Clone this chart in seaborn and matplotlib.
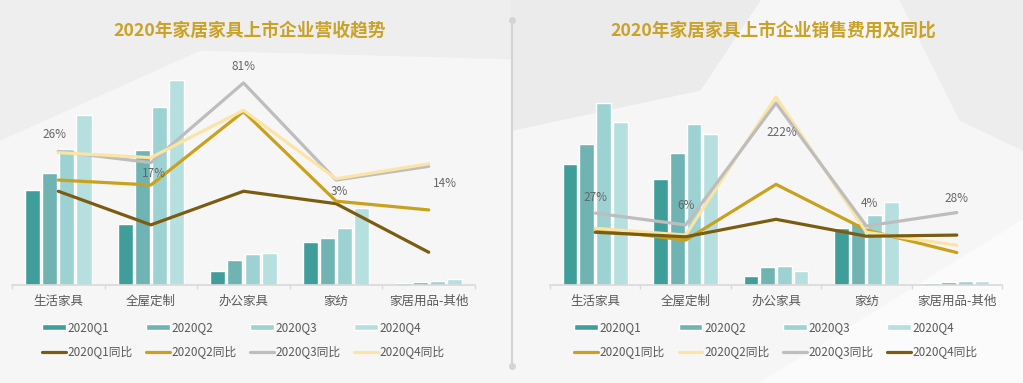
import numpy as np
import pandas as pd
import matplotlib.pyplot as plt
import seaborn as sns
from matplotlib.patches import Patch, Polygon
from matplotlib.lines import Line2D

sns.set_theme(style="white")
plt.rcParams['font.family'] = ['Noto Sans CJK SC', 'DejaVu Sans']

categories = ["生活家具", "全屋定制", "办公家具", "家纺", "家居用品-其他"]
quarters = ["2020Q1", "2020Q2", "2020Q3", "2020Q4"]

# revenue (left), relative units
rev_q1 = [95, 61, 14, 43, 2]
rev_q2 = [112, 135, 25, 47, 3]
rev_q3 = [136, 178, 31, 57, 4]
rev_q4 = [170, 205, 32, 77, 6]
# revenue yoy %
rev_yoy_q1 = [-6, -33, -6, -16, -55]
rev_yoy_q2 = [3, -1, 58, -14, -21]
rev_yoy_q3 = [26, 17, 81, 3, 14]
rev_yoy_q4 = [25, 21, 59, 4, 16]

# selling expense (right), relative units
exp_q1 = [121, 106, 9, 57, 2]
exp_q2 = [141, 132, 18, 62, 3]
exp_q3 = [182, 161, 19, 70, 4]
exp_q4 = [163, 151, 14, 83, 4]
# selling expense yoy %
exp_yoy_q1 = [-1, -21, 78, -3, -43]
exp_yoy_q2 = [0, -12, 233, -7, -30]
exp_yoy_q3 = [27, 6, 222, 4, 28]
exp_yoy_q4 = [-7, -15, 16, -14, -12]

bar_colors = ["#3f9e9a", "#6fb4b2", "#9dd2d3", "#b6dfe0"]
BROWN, GOLD, GRAY, CREAM = "#7b5d12", "#c9a11c", "#bdbdbd", "#fbe4a4"
title_color = "#c9a227"


def long_df(series):
    rows = []
    for q, vals in zip(quarters, series):
        for c, v in zip(categories, vals):
            rows.append({"cat": c, "quarter": q, "value": v})
    return pd.DataFrame(rows)


fig = plt.figure(figsize=(10.23, 3.83), dpi=100)
fig.patch.set_facecolor("#f6f6f6")

# soft background shapes
bg = fig.add_axes([0, 0, 1, 1], zorder=-10)
bg.set_xlim(0, 1023)
bg.set_ylim(383, 0)
bg.axis("off")
bg.add_patch(Polygon([[0, 0], [600, 0], [560, 60], [200, 50], [0, 140]], color="#eeeeee"))
bg.add_patch(Polygon([[512, 0], [760, 0], [700, 90], [512, 130]], color="#ebebeb"))
bg.add_patch(Polygon([[900, 0], [1023, 0], [1023, 150], [960, 120]], color="#ededed"))
bg.add_patch(Polygon([[760, 383], [1023, 220], [1023, 383]], color="#fbfbfb"))
bg.plot([512, 512], [20, 366], color="#d4d4d4", lw=1.5)
bg.plot([512, 512], [20, 366], "o", color="#d4d4d4", ms=4)


def panel(rect, bars, yoys, yoy_colors, yoy_labels, ylim2, labels_idx, label_offsets, title, title_x):
    ax = fig.add_axes(rect)
    ax.patch.set_alpha(0)
    df = long_df(bars)
    sns.barplot(data=df, x="cat", y="value", hue="quarter", palette=bar_colors,
                width=0.74, gap=0.12, legend=False, ax=ax, saturation=1)
    ax.set_ylim(0, 225)
    ax.set_xlim(-0.5, 4.5)
    ax.set_xlabel("")
    ax.set_ylabel("")
    ax.set_yticks([])
    for s in ["top", "right", "left"]:
        ax.spines[s].set_visible(False)
    ax.spines["bottom"].set_color("#d9d9d9")
    ax.spines["bottom"].set_linewidth(1.2)
    ax.tick_params(axis="x", length=0, labelsize=9, colors="#595959", pad=7)
    ax.set_xticks(np.arange(-0.5, 5, 1), minor=True)
    ax.tick_params(axis="x", which="minor", length=3, color="#d9d9d9", bottom=True)

    ax2 = ax.twinx()
    x = np.arange(len(categories))
    for vals, col, lab in zip(yoys, yoy_colors, yoy_labels):
        sns.lineplot(x=x, y=vals, color=col, lw=2.3, ax=ax2, legend=False)
    ax2.set_ylim(*ylim2)
    ax2.set_yticks([])
    ax2.set_ylabel("")
    for s in ax2.spines.values():
        s.set_visible(False)

    gray_vals = yoys[labels_idx]
    for i, v in enumerate(gray_vals):
        ax2.annotate(f"{v}%", (i, v), xytext=label_offsets[i], textcoords="offset points",
                     ha="center", va="center", fontsize=8.5, color="#666666")

    handles = []
    for qc, q, lc, ll in zip(bar_colors, quarters, yoy_colors, yoy_labels):
        handles.append(Patch(facecolor=qc, label=q))
        handles.append(Line2D([0], [0], color=lc, lw=2.3, label=ll))
    ax.legend(handles=handles, ncol=4, loc="upper center", bbox_to_anchor=(0.5, -0.115),
              frameon=False, fontsize=8.5, handlelength=2.0, handleheight=0.45,
              handletextpad=0.15, columnspacing=1.15, labelspacing=0.95,
              labelcolor="#595959")
    fig.text(title_x, 0.918, title, ha="center", va="center", fontsize=12.8,
             fontweight="bold", color=title_color)
    return ax


yoy_labels = [q + "同比" for q in quarters]

panel([12 / 1023, 98 / 383, 463 / 1023, 225 / 383],
      [rev_q1, rev_q2, rev_q3, rev_q4],
      [rev_yoy_q1, rev_yoy_q2, rev_yoy_q3, rev_yoy_q4],
      [BROWN, GOLD, GRAY, CREAM], yoy_labels,
      (-81.3, 99.4), 2,
      [(-3, 12), (2, -8), (0, 12), (2, -8), (12, -12)],
      "2020年家居家具上市企业营收趋势", 250 / 1023)

panel([550 / 1023, 98 / 383, 452 / 1023, 225 / 383],
      [exp_q1, exp_q2, exp_q3, exp_q4],
      [exp_yoy_q1, exp_yoy_q2, exp_yoy_q3, exp_yoy_q4],
      [GOLD, CREAM, GRAY, BROWN], yoy_labels,
      (-100.5, 298.5), 2,
      [(0, 11), (0, 14), (4, -21), (2, 16), (0, 10)],
      "2020年家居家具上市企业销售费用及同比", 773 / 1023)

fig.savefig("out.png", dpi=100, facecolor=fig.get_facecolor())
